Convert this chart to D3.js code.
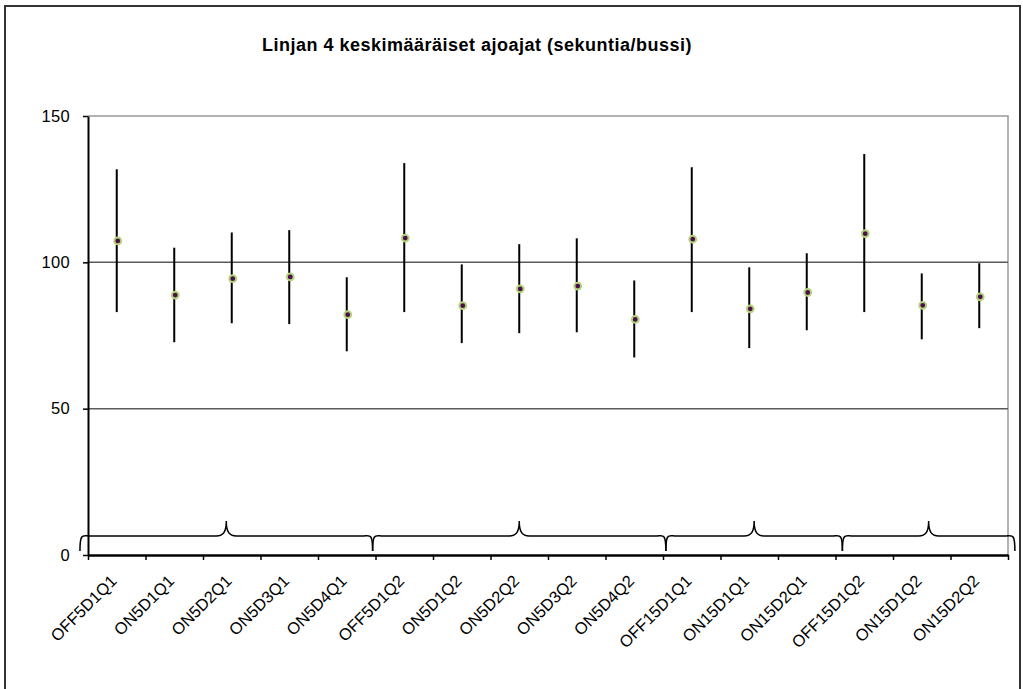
<!DOCTYPE html>
<html>
<head>
<meta charset="utf-8">
<script src="https://cdn.jsdelivr.net/npm/d3@7"></script>
<style>
  html, body { margin: 0; padding: 0; background: #fff; }
  svg { display: block; font-family: "Liberation Sans", Arial, sans-serif; }
</style>
</head>
<body>
<svg id="chart" width="1023" height="689"></svg>
<script>
const categories = ["OFF5D1Q1", "ON5D1Q1", "ON5D2Q1", "ON5D3Q1", "ON5D4Q1", "OFF5D1Q2", "ON5D1Q2", "ON5D2Q2",
  "ON5D3Q2", "ON5D4Q2", "OFF15D1Q1", "ON15D1Q1", "ON15D2Q1", "OFF15D1Q2", "ON15D1Q2", "ON15D2Q2"];
const means = [107.3, 88.8, 94.4, 95.0, 82.1, 108.3, 85.2, 90.9, 91.9, 80.5, 107.9, 84.1, 89.7, 109.8, 85.3, 88.2];
const highs = [131.8, 105.0, 110.2, 111.0, 94.9, 133.9, 99.3, 106.2, 108.2, 93.8, 132.5, 98.3, 103.1, 137.0, 96.2, 99.7];
const lows = [83.0, 72.7, 79.2, 78.9, 69.6, 83.0, 72.4, 75.8, 76.1, 67.5, 83.0, 70.7, 76.8, 83.0, 73.7, 77.5];
const yTicks = [0, 50, 100, 150];
// brace groups, in category units along the x axis
const braceStarts = [-0.14, 4.95, 10.05, 13.12];
const braceEnds = [4.95, 10.05, 13.12, 16.12];

const title = "Linjan 4 keskimääräiset ajoajat (sekuntia/bussi)";

const svg = d3.select("#chart");
const m = { top: 116, right: 15, bottom: 134, left: 88 };
const W = 1023, H = 689;

// outer frame
svg.append("rect")
  .attr("x", 5).attr("y", 6)
  .attr("width", 1015).attr("height", 700)
  .attr("fill", "none")
  .attr("stroke", "#333")
  .attr("stroke-width", 2);

const x = d3.scaleBand().domain(categories).range([m.left, W - m.right]);
const xi = d3.scaleLinear().domain([0, categories.length]).range([m.left, W - m.right]);
const y = d3.scaleLinear().domain([0, 150]).range([H - m.bottom, m.top]);

// plot area border (top + right)
svg.append("path")
  .attr("d", `M${xi(0)},${y(150)}H${xi(16)}V${y(0)}`)
  .attr("fill", "none")
  .attr("stroke", "#999")
  .attr("stroke-width", 1.5);

// gridlines
svg.append("g")
  .selectAll("line")
  .data(yTicks.filter(d => d > 0 && d < 150))
  .join("line")
  .attr("x1", xi(0)).attr("x2", xi(16))
  .attr("y1", d => y(d)).attr("y2", d => y(d))
  .attr("stroke", "#5a5a5a")
  .attr("stroke-width", 1.5);

// y axis
const yAxis = svg.append("g")
  .attr("transform", `translate(${m.left},0)`)
  .call(d3.axisLeft(y).tickValues(yTicks).tickSize(5).tickSizeOuter(0).tickPadding(13));
yAxis.select(".domain").attr("stroke", "#000").attr("stroke-width", 2);
yAxis.selectAll(".tick line").attr("stroke", "#000").attr("stroke-width", 1.5);
yAxis.selectAll(".tick text")
  .attr("font-size", 16.5)
  .attr("letter-spacing", 0.3)
  .attr("font-family", "Liberation Sans, Arial, sans-serif")
  .attr("fill", "#000");

// x axis
const xAxis = svg.append("g")
  .attr("transform", `translate(0,${y(0)})`)
  .call(d3.axisBottom(xi).tickValues(d3.range(0, 17)).tickFormat("").tickSize(5).tickSizeOuter(0));
xAxis.select(".domain").attr("stroke", "#000").attr("stroke-width", 2.5);
xAxis.selectAll(".tick line").attr("stroke", "#000").attr("stroke-width", 1.5);

// x labels
svg.append("g")
  .selectAll("text")
  .data(categories)
  .join("text")
  .attr("transform", d => `translate(${x(d) + x.bandwidth() / 2 - 3},${y(0) + 23}) rotate(-45)`)
  .attr("text-anchor", "end")
  .attr("dy", "0.35em")
  .attr("font-size", 16.5)
  .attr("fill", "#000")
  .text(d => d);

// braces
const braceY = y(0) - 19, braceTip = y(0) - 34, braceEnd = y(0) - 4;
svg.append("g")
  .selectAll("path")
  .data(braceStarts.map((s, i) => [s, braceEnds[i]]))
  .join("path")
  .attr("d", ([s, e]) => {
    const x0 = xi(s), x1 = xi(e), mid = (x0 + x1) / 2;
    return `M${x0},${braceEnd}C${x0},${braceY - 4} ${x0 + 3},${braceY} ${x0 + 10},${braceY}`
      + `L${mid - 10},${braceY}C${mid - 3},${braceY} ${mid},${braceY - 4} ${mid},${braceTip}`
      + `C${mid},${braceY - 4} ${mid + 3},${braceY} ${mid + 10},${braceY}`
      + `L${x1 - 10},${braceY}C${x1 - 3},${braceY} ${x1},${braceY - 4} ${x1},${braceEnd}`;
  })
  .attr("fill", "none")
  .attr("stroke", "#000")
  .attr("stroke-width", 1.5);

// error bars
svg.append("g")
  .selectAll("line")
  .data(categories)
  .join("line")
  .attr("x1", d => x(d) + x.bandwidth() / 2)
  .attr("x2", d => x(d) + x.bandwidth() / 2)
  .attr("y1", (d, i) => y(highs[i]))
  .attr("y2", (d, i) => y(lows[i]))
  .attr("stroke", "#000")
  .attr("stroke-width", 2);

// mean markers
svg.append("g")
  .selectAll("circle")
  .data(categories)
  .join("circle")
  .attr("cx", d => x(d) + x.bandwidth() / 2 + 1)
  .attr("cy", (d, i) => y(means[i]))
  .attr("r", 3.4)
  .attr("fill", "#4a0f4a")
  .attr("stroke", "#b3d27a")
  .attr("stroke-width", 2);

// title
svg.append("text")
  .attr("x", 477)
  .attr("y", 51)
  .attr("text-anchor", "middle")
  .attr("font-size", 18)
  .attr("letter-spacing", 0.5)
  .attr("font-weight", "bold")
  .attr("fill", "#000")
  .text(title);
</script>
</body>
</html>
